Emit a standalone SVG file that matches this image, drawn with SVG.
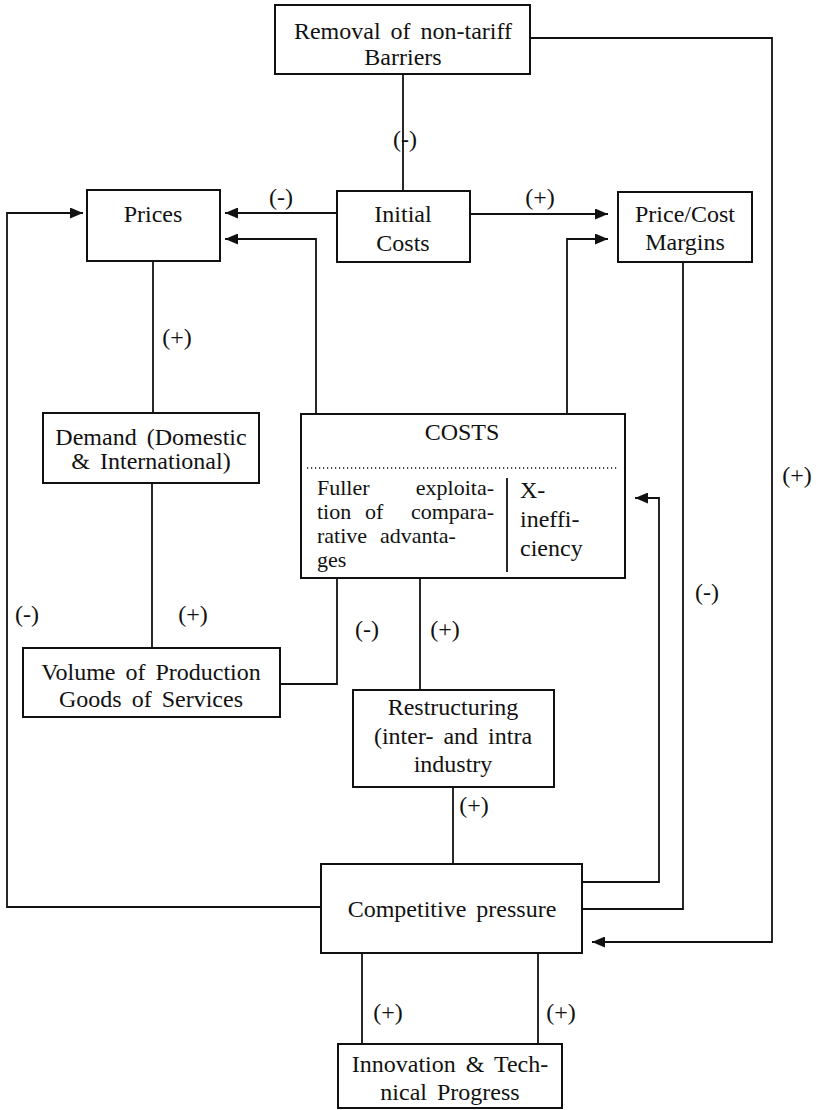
<svg xmlns="http://www.w3.org/2000/svg" width="818" height="1110" viewBox="0 0 818 1110">
<style>
.box{fill:#fff;stroke:#111;stroke-width:2}
.t{font-family:"Liberation Serif","Times New Roman",serif;font-size:24px;fill:#111;word-spacing:4px}
.s{font-size:22px}
.m{text-anchor:middle}
.e{text-anchor:end}
.c{fill:none;stroke:#111;stroke-width:1.8}
</style>
<defs>
<marker id="ah" viewBox="0 0 13 11" refX="13" refY="5.5" markerWidth="13" markerHeight="11" markerUnits="userSpaceOnUse" orient="auto">
<path d="M0,0 L13,5.5 L0,11 z" fill="#111"/>
</marker>
</defs>
<rect width="818" height="1110" fill="#fff"/>
<g id="connectors">
<polyline class="c" points="530,38 772,38 772,942 592,942" marker-end="url(#ah)"/>
<line class="c" x1="403" y1="74" x2="403" y2="191"/>
<line class="c" x1="337" y1="213" x2="225" y2="213" marker-end="url(#ah)"/>
<line class="c" x1="470" y1="214" x2="608" y2="214" marker-end="url(#ah)"/>
<polyline class="c" points="316,414 316,239 225,239" marker-end="url(#ah)"/>
<polyline class="c" points="567,414 567,239 608,239" marker-end="url(#ah)"/>
<polyline class="c" points="321,907 7,907 7,213 83,213" marker-end="url(#ah)"/>
<line class="c" x1="153" y1="261" x2="153" y2="413"/>
<line class="c" x1="152" y1="483" x2="152" y2="648"/>
<polyline class="c" points="280,684 337,684 337,578"/>
<line class="c" x1="420" y1="578" x2="420" y2="690"/>
<line class="c" x1="453" y1="787" x2="453" y2="864"/>
<polyline class="c" points="582,882 659,882 659,498 635,498" marker-end="url(#ah)"/>
<polyline class="c" points="582,909 683,909 683,262"/>
<line class="c" x1="362" y1="953" x2="362" y2="1044"/>
<line class="c" x1="538" y1="953" x2="538" y2="1044"/>
<text class="t m" x="405" y="147">(-)</text>
<text class="t m" x="281" y="205">(-)</text>
<text class="t m" x="540" y="205">(+)</text>
<text class="t m" x="177" y="345">(+)</text>
<text class="t m" x="27" y="622">(-)</text>
<text class="t m" x="193" y="622">(+)</text>
<text class="t m" x="367" y="637">(-)</text>
<text class="t m" x="445" y="637">(+)</text>
<text class="t m" x="474" y="813">(+)</text>
<text class="t m" x="707" y="600">(-)</text>
<text class="t m" x="797" y="483">(+)</text>
<text class="t m" x="388" y="1020">(+)</text>
<text class="t m" x="561" y="1020">(+)</text>
</g>
<g id="removal">
<rect class="box" x="275" y="5" width="255" height="69"/>
<text class="t m" x="403" y="39">Removal of non-tariff</text>
<text class="t m" x="403" y="65">Barriers</text>
</g>
<g id="prices">
<rect class="box" x="87" y="190" width="133" height="71"/>
<text class="t m" x="153" y="222">Prices</text>
</g>
<g id="initial-costs">
<rect class="box" x="337" y="191" width="133" height="71"/>
<text class="t m" x="403" y="222">Initial</text>
<text class="t m" x="403" y="251">Costs</text>
</g>
<g id="price-cost-margins">
<rect class="box" x="618" y="192" width="134" height="70"/>
<text class="t m" x="685" y="222">Price/Cost</text>
<text class="t m" x="685" y="250">Margins</text>
</g>
<g id="demand">
<rect class="box" x="43" y="413" width="216" height="70"/>
<text class="t m" x="151" y="445">Demand (Domestic</text>
<text class="t m" x="151" y="469">&amp; International)</text>
</g>
<g id="costs">
<rect class="box" x="301" y="414" width="324" height="164"/>
<text class="t m" x="462" y="440">COSTS</text>
<line x1="307" y1="468" x2="617" y2="468" stroke="#111" stroke-width="1.5" stroke-dasharray="1.2 2.8"/>
<line x1="507" y1="478" x2="507" y2="572" stroke="#111" stroke-width="1.8"/>
<text class="t s" x="317" y="495">Fuller</text>
<text class="t s e" x="494" y="495">exploita-</text>
<text class="t s" x="317" y="519">tion</text>
<text class="t s" x="365" y="519">of</text>
<text class="t s e" x="494" y="519">compara-</text>
<text class="t s" x="317" y="543">rative</text>
<text class="t s" x="380" y="543">advanta-</text>
<text class="t s" x="317" y="567">ges</text>
<text class="t" x="520" y="498">X-</text>
<text class="t" x="520" y="527">ineffi-</text>
<text class="t" x="520" y="556">ciency</text>
</g>
<g id="volume">
<rect class="box" x="23" y="648" width="257" height="69"/>
<text class="t m" x="151" y="680">Volume of Production</text>
<text class="t m" x="151" y="707">Goods of Services</text>
</g>
<g id="restructuring">
<rect class="box" x="353" y="690" width="201" height="97"/>
<text class="t m" x="453" y="715">Restructuring</text>
<text class="t m" x="453" y="744">(inter- and intra</text>
<text class="t m" x="453" y="772">industry</text>
</g>
<g id="competitive-pressure">
<rect class="box" x="321" y="864" width="261" height="89"/>
<text class="t m" x="452" y="917">Competitive pressure</text>
</g>
<g id="innovation">
<rect class="box" x="338" y="1044" width="224" height="64"/>
<text class="t m" x="450" y="1072">Innovation &amp; Tech-</text>
<text class="t m" x="450" y="1100">nical Progress</text>
</g>
</svg>
